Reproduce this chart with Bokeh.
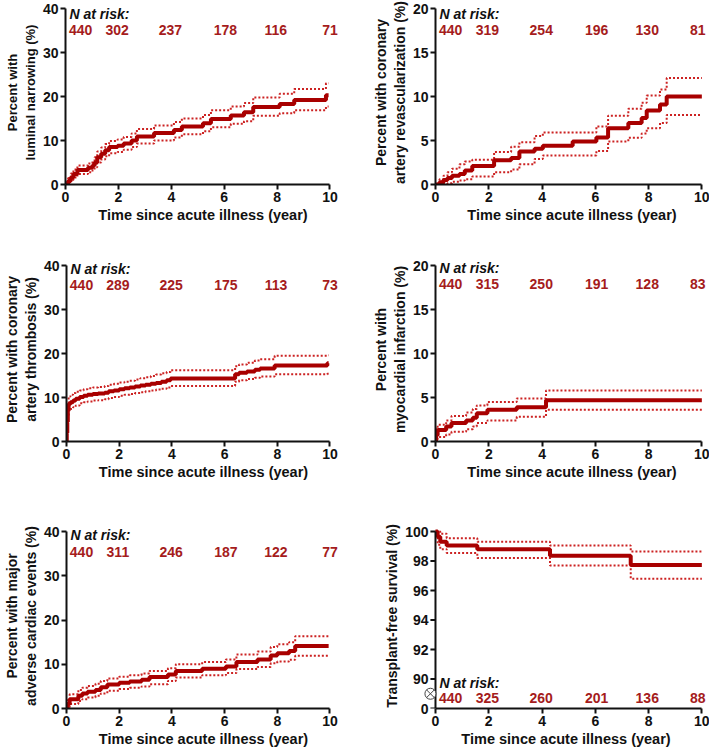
from bokeh.plotting import figure
from bokeh.models import Range1d, FixedTicker, Label
from bokeh.layouts import column, row
from bokeh.embed import file_html
from bokeh.resources import INLINE

# ---------------- data ----------------
x_ticks = [0, 2, 4, 6, 8, 10]
x_label = "Time since acute illness (year)"

# Panel 1: luminal narrowing
t1 = [0, 0.1, 0.2, 0.3, 0.45, 0.85, 1.02, 1.1, 1.2, 1.35, 1.5, 1.65, 1.97, 2.2, 2.5, 2.7, 3.35, 4.1, 4.4,
      5.2, 5.5, 6.25, 6.75, 7.1, 8.1, 8.65, 9.85, 9.95]
v1 = [0, 0.8, 1.6, 2.4, 3.3, 3.8, 4.3, 5.0, 6.2, 7.0, 7.8, 8.5, 8.8, 9.3, 10.0, 10.9, 11.7, 12.4, 13.2,
      13.9, 14.9, 15.7, 16.4, 17.6, 18.3, 19.2, 20.3, 20.3]
u1 = [0, 1.5, 2.5, 3.4, 4.3, 4.8, 5.4, 6.2, 7.5, 8.4, 9.2, 9.9, 10.2, 10.8, 11.6, 12.6, 13.4, 14.2, 15.0,
      15.8, 16.9, 17.7, 18.5, 19.8, 20.6, 21.7, 23.0, 23.0]
l1 = [0, 0.3, 1.0, 1.6, 2.4, 2.8, 3.2, 3.9, 5.0, 5.7, 6.4, 7.1, 7.4, 7.9, 8.5, 9.3, 10.0, 10.7, 11.4,
      12.1, 13.0, 13.8, 14.4, 15.6, 16.2, 16.9, 17.7, 17.7]
risk1 = ["440", "302", "237", "178", "116", "71"]

# Panel 2: coronary artery revascularization
t2 = [0, 0.15, 0.3, 0.45, 0.62, 0.9, 1.1, 1.38, 2.2, 2.84, 3.15, 3.72, 4.03, 5.15, 6.04, 6.48, 7.24,
      7.74, 7.93, 8.43, 8.68, 10]
v2 = [0, 0.25, 0.5, 0.75, 1.0, 1.2, 1.6, 2.1, 2.75, 3.0, 3.75, 4.05, 4.4, 4.9, 5.35, 6.4, 7.0, 7.55,
      8.4, 9.1, 10.0, 10.0]
u2 = [0, 0.6, 1.0, 1.4, 1.8, 2.3, 2.6, 2.8, 3.7, 4.3, 4.8, 5.5, 5.9, 5.9, 6.6, 7.8, 8.6, 9.3, 10.1,
      10.8, 12.1, 12.1]
l2 = [0, 0.0, 0.05, 0.15, 0.3, 0.45, 0.6, 0.9, 1.4, 1.7, 2.3, 2.9, 3.3, 3.3, 3.8, 4.9, 5.3, 5.8, 6.4,
      7.0, 7.9, 7.9]
risk2 = ["440", "319", "254", "196", "130", "81"]

# Panel 3: coronary artery thrombosis
t3 = [0, 0.01, 0.03, 0.05, 0.08, 0.15, 0.25, 0.35, 0.5, 0.65, 0.8, 1.0, 1.2, 1.45, 1.6, 1.8, 2.0, 2.2,
      2.4, 2.6, 2.8, 3.0, 3.2, 3.4, 3.6, 3.8, 3.95, 6.4, 6.55, 6.85, 7.15, 7.35, 7.9, 9.9, 9.95]
v3 = [0, 2.0, 4.5, 7.0, 8.5, 8.9, 9.3, 9.7, 10.1, 10.4, 10.6, 10.8, 10.9, 11.1, 11.4, 11.6, 11.9, 12.1,
      12.3, 12.5, 12.7, 12.9, 13.1, 13.3, 13.6, 13.9, 14.3, 15.3, 15.6, 15.9, 16.3, 16.6, 17.3, 17.8, 17.8]
u3 = [0, 3.0, 5.8, 8.6, 10.2, 10.6, 11.0, 11.3, 11.6, 11.9, 12.1, 12.3, 12.4, 12.6, 12.9, 13.1, 13.4,
      13.6, 13.8, 14.1, 14.4, 14.6, 14.9, 15.2, 15.5, 15.8, 16.2, 17.1, 17.5, 17.9, 18.4, 18.7, 19.5,
      19.6, 19.6]
l3 = [0, 1.2, 3.2, 5.5, 7.0, 7.4, 7.8, 8.2, 8.7, 8.9, 9.1, 9.3, 9.4, 9.6, 9.9, 10.1, 10.4, 10.6, 10.8,
      11.0, 11.2, 11.4, 11.6, 11.8, 12.0, 12.3, 12.6, 13.6, 13.9, 14.2, 14.5, 14.8, 15.3, 15.4, 15.4]
risk3 = ["440", "289", "225", "175", "113", "73"]

# Panel 4: myocardial infarction
t4 = [0, 0.02, 0.08, 0.4, 0.6, 1.15, 1.4, 1.55, 1.95, 3.05, 4.15, 10]
v4 = [0, 0.7, 1.3, 1.7, 2.1, 2.4, 2.7, 3.2, 3.6, 3.9, 4.7, 4.7]
u4 = [0, 1.5, 1.9, 2.4, 2.9, 3.3, 3.7, 4.1, 4.5, 4.9, 5.8, 5.8]
l4 = [0, 0.2, 0.5, 0.8, 1.1, 1.4, 1.7, 2.1, 2.4, 2.8, 3.6, 3.6]
risk4 = ["440", "315", "250", "191", "128", "83"]

# Panel 5: major adverse cardiac events
t5 = [0, 0.03, 0.12, 0.45, 0.6, 0.8, 1.1, 1.3, 1.55, 2.0, 2.4, 2.85, 3.15, 3.85, 4.15, 5.15, 6.05,
      6.45, 7.25, 7.75, 8.0, 8.45, 8.68, 9.95]
v5 = [0, 1.0, 2.1, 2.9, 3.4, 3.8, 4.2, 4.8, 5.4, 5.8, 6.1, 6.5, 7.1, 7.7, 8.5, 9.0, 9.5, 10.5, 11.1,
      12.0, 12.5, 13.0, 14.1, 14.1]
u5 = [0, 2.0, 3.2, 4.2, 4.7, 5.1, 5.6, 6.2, 6.8, 7.2, 7.5, 7.9, 8.5, 9.1, 10.0, 10.5, 11.1, 12.2, 12.9,
      13.9, 14.5, 15.0, 16.3, 16.3]
l5 = [0, 0.3, 1.0, 1.7, 2.1, 2.5, 2.9, 3.4, 4.0, 4.4, 4.7, 5.0, 5.5, 6.2, 7.0, 7.5, 8.0, 8.9, 9.4,
      10.2, 10.6, 11.0, 11.9, 11.9]
risk5 = ["440", "311", "246", "187", "122", "77"]

# Panel 6: transplant-free survival (y axis broken between 0 and 90)
t6 = [0, 0.08, 0.18, 0.42, 1.57, 4.3, 7.33, 10]
v6 = [100, 99.65, 99.3, 99.05, 98.8, 98.35, 97.73, 97.73]
u6 = [100, 100, 99.85, 99.55, 99.3, 99.05, 98.64, 98.64]
l6 = [100, 99.1, 98.8, 98.55, 98.2, 97.7, 96.8, 96.8]
risk6 = ["440", "325", "260", "201", "136", "88"]
y6_ticks = [88, 90, 92, 94, 96, 98, 100]
y6_tick_labels = {88: "0"}

risk_x_left = [0.57, 1.95, 3.97, 6.05, 7.95, 10.0]
risk_x_right = [0.57, 1.95, 3.97, 6.05, 7.95, 9.85]

# ---------------- style ----------------
FONT = "Liberation Sans"
MAIN = "#A80000"
CI = "#CC2222"
NUM = "#A51C1C"
AXC = "#111111"
EXT_PX = 8  # invisible headroom above the top tick so texts / thick lines are not clipped


def panel(t, v, u, l, ylabel, y_start, y_end, yticks, risk, risk_x, head_y, num_y,
          width, height, x_start, x_end, bl, br, bt, bb, overrides=None, ylabel_size="14px"):
    frame_h = height - bt - bb
    y_top = y_end + EXT_PX * (y_end - y_start) / frame_h
    p = figure(width=width, height=height, output_backend="svg", toolbar_location=None,
               x_range=Range1d(x_start, x_end), y_range=Range1d(y_start, y_top),
               min_border_left=bl, min_border_right=br, min_border_top=bt - EXT_PX,
               min_border_bottom=bb)
    p.outline_line_color = None
    p.xgrid.visible = False
    p.ygrid.visible = False
    p.background_fill_color = "white"

    p.step(t, u, mode="after", line_color=CI, line_width=2, line_dash="2 2")
    p.step(t, l, mode="after", line_color=CI, line_width=2, line_dash="2 2")
    p.step(t, v, mode="after", line_color=MAIN, line_width=4)

    for ax in (p.xaxis[0], p.yaxis[0]):
        ax.axis_line_width = 2
        ax.axis_line_color = AXC
        ax.major_tick_line_width = 2
        ax.major_tick_line_color = AXC
        ax.major_tick_out = 5
        ax.major_tick_in = 0
        ax.minor_tick_line_color = None
        ax.major_label_text_font = FONT
        ax.major_label_text_font_style = "bold"
        ax.major_label_text_font_size = "14px"
        ax.major_label_text_color = AXC
        ax.axis_label_text_font = FONT
        ax.axis_label_text_font_style = "bold"
        ax.axis_label_text_color = AXC
        ax.major_label_standoff = 2
        ax.axis_label_standoff = 2

    p.xaxis.ticker = FixedTicker(ticks=x_ticks)
    p.xaxis.bounds = (0, 10)
    p.xaxis.axis_label = x_label
    p.xaxis.axis_label_text_font_size = "14.5px"
    p.yaxis.ticker = FixedTicker(ticks=yticks)
    p.yaxis.bounds = (y_start, y_end)
    p.yaxis.axis_label = ylabel
    p.yaxis.axis_label_text_font_size = ylabel_size
    if overrides:
        p.yaxis.major_label_overrides = overrides

    p.add_layout(Label(x=0.15, y=head_y, text="N at risk:", text_font=FONT,
                       text_font_style="bold italic", text_font_size="14px",
                       text_color=AXC, text_baseline="middle", text_align="left"))
    for xx, s in zip(risk_x, risk):
        p.add_layout(Label(x=xx, y=num_y, text=s, text_font=FONT, text_font_style="bold",
                           text_font_size="14px", text_color=NUM, text_baseline="middle",
                           text_align="center"))
    return p


WL, WR = 353, 356
H1, H2, H3 = 250, 250, 249
XL, XR = 10.4, 10.25

p1 = panel(t1, v1, u1, l1, "Percent with\nluminal narrowing (%)", 0, 40, [0, 10, 20, 30, 40],
           risk1, risk_x_left, 38.8, 35.2, WL, H1, 0, XL, 65, 13, 8, 66, ylabel_size="13px")
p2 = panel(t2, v2, u2, l2, "Percent with coronary\nartery revascularization (%)", 0, 20,
           [0, 5, 10, 15, 20], risk2, risk_x_right, 19.4, 17.6, WR, H1, 0, XR, 82, 1, 8, 66)
p3 = panel(t3, v3, u3, l3, "Percent with coronary\nartery thrombosis (%)", 0, 40, [0, 10, 20, 30, 40],
           risk3, risk_x_left, 39.2, 35.6, WL, H2, 0, XL, 65, 13, 15, 59)
p4 = panel(t4, v4, u4, l4, "Percent with\nmyocardial infarction (%)", 0, 20, [0, 5, 10, 15, 20],
           risk4, risk_x_right, 19.7, 17.9, WR, H2, 0, XR, 82, 1, 15, 59)
p5 = panel(t5, v5, u5, l5, "Percent with major\nadverse cardiac events (%)", 0, 40,
           [0, 10, 20, 30, 40], risk5, risk_x_left, 39.2, 35.3, WL, H3, 0, XL, 65, 13, 31, 41)

# Panel 6: the frame begins ~12px left of x=0 so the axis-break symbol (drawn on the y axis
# line) is not clipped; the y axis line and its ticks are drawn at x=0 inside the frame.
X6_START = -0.45
TICK_DX = 0.19  # ~5px in data units
p6 = panel(t6, v6, u6, l6, "Transplant-free survival (%)", y6_ticks[0], y6_ticks[-1], y6_ticks,
           risk6, risk_x_right, 89.7, 88.7, WR, H3, X6_START, XR, 70, 1, 31, 41,
           overrides=y6_tick_labels)
ya = p6.yaxis[0]
ya.axis_line_color = None
ya.major_tick_line_color = None
ya.major_tick_out = 0
ya.major_label_standoff = -5
p6.segment(x0=[0], y0=[y6_ticks[0]], x1=[0], y1=[y6_ticks[-1]], line_color=AXC, line_width=2)
p6.segment(x0=[-TICK_DX] * len(y6_ticks), y0=y6_ticks, x1=[0] * len(y6_ticks), y1=y6_ticks,
           line_color=AXC, line_width=2)
p6.scatter(x=[-TICK_DX], y=[(y6_ticks[0] + y6_ticks[1]) / 2], marker="circle_x", size=11,
           fill_color="white", line_color="#444444", line_width=1)

layout = column(row(p1, p2), row(p3, p4), row(p5, p6))

open("out.html", "w").write(file_html(layout, INLINE))
